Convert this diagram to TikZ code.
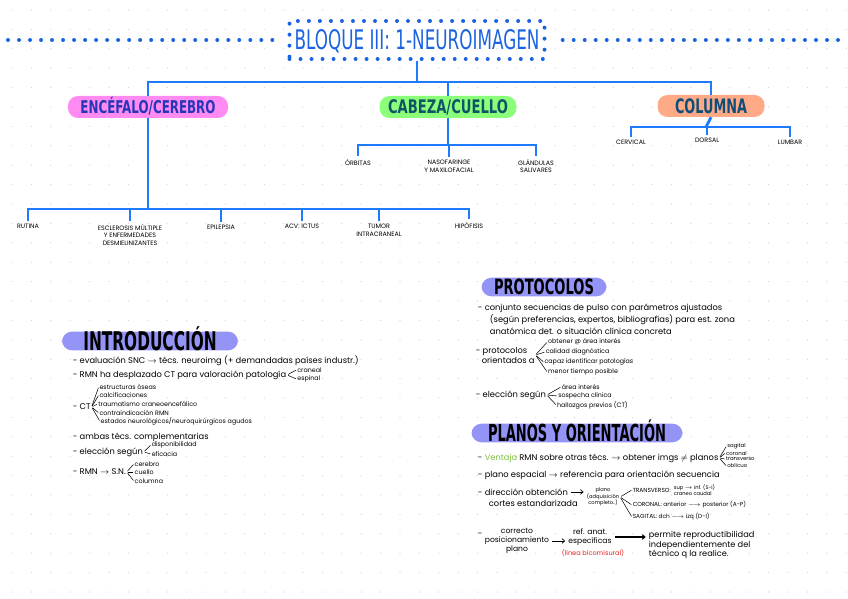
\documentclass[tikz,border=0pt]{standalone}
\usepackage{fontspec}
\setmainfont{Poppins}
\newfontfamily\headfont{DejaVu Sans}
\usepackage{tikz}
\usetikzlibrary{arrows.meta}

\definecolor{treeblue}{HTML}{1E7BFF}
\definecolor{titleblue}{HTML}{1B63E0}
\definecolor{encpink}{HTML}{FF8AF2}
\definecolor{encink}{HTML}{2636B8}
\definecolor{cabgreen}{HTML}{8CFF7A}
\definecolor{cabink}{HTML}{0F5566}
\definecolor{colorange}{HTML}{FFAA86}
\definecolor{colink}{HTML}{0E4E78}
\definecolor{secblue}{HTML}{9494F6}
\definecolor{vgreen}{HTML}{7CC242}
\definecolor{bicored}{HTML}{E4221E}

\newcommand{\hd}[2]{\resizebox{#1}{\height}{#2}}
\newcommand{\fs}[2]{\fontsize{#1}{#2}\selectfont}

\begin{document}
\begin{tikzpicture}[
  x=0.03cm, y=-0.03cm,
  branch/.style={treeblue, line width=2.4pt},
  dotrow/.style={titleblue, line width=3.4pt, line cap=round, dash pattern=on 0pt off 9.4pt},
  pill/.style={rounded corners=0.3cm, inner sep=0pt, text depth=0pt},
  secpill/.style={pill, fill=secblue, text=black, minimum height=0.56cm},
  leaf/.style={anchor=north, align=center, inner sep=2.5pt, font=\fs{5.4}{6.6}},
  txt/.style={anchor=west, inner sep=0.6pt, font=\fs{7.1}{8.6}},
  subtxt/.style={anchor=west, inner sep=0.6pt, font=\fs{5.4}{6}},
  tinytxt/.style={subtxt, font=\fs{4.6}{5}},
  fan/.style={black, line width=0.45pt, shorten <=1pt, shorten >=0.5pt},
  handarrow/.style={black, line width=0.6pt, -{Straight Barb[length=2.2pt,width=4pt]}, shorten <=2pt, shorten >=2pt},
]
\useasboundingbox (0,0) rectangle (848,599);

% dotted paper
\foreach \gx in {0,...,43} {
  \foreach \gy in {0,...,30} {
    \fill[black!18] ({12+19.4*\gx},{10+19.4*\gy}) circle (0.55pt);
  }
}

%%% Title and first level %%%
\node[dotrow, draw, minimum width=7.65cm, minimum height=1.14cm, inner sep=0pt,
  text height=17pt, text depth=0pt, text=titleblue, font=\headfont\fs{23}{23}]
  (tit) at (417,40) {\hd{7.35cm}{BLOQUE III: 1-NEUROIMAGEN}};
\coordinate (dl) at (8,40);
\coordinate (dr) at (838,40);
\draw[dotrow, shorten >=9pt] (dl) -- (tit.west);
\draw[dotrow, shorten >=9pt] (dr) -- (tit.east);

\node[pill, fill=encpink, text=encink, minimum width=4.8cm, minimum height=0.66cm,
  text height=11pt, font=\headfont\bfseries\fs{15}{15}] (enc) at (148,107) {\hd{4.05cm}{ENCÉFALO/CEREBRO}};
\node[pill, fill=cabgreen, text=cabink, minimum width=4.11cm, minimum height=0.66cm,
  text height=11.7pt, font=\headfont\bfseries\fs{16}{16}] (cab) at (448,107) {\hd{3.6cm}{CABEZA/CUELLO}};
\node[pill, fill=colorange, text=colink, minimum width=3.21cm, minimum height=0.66cm,
  text height=12.4pt, font=\headfont\bfseries\fs{17}{17}] (col) at (711,106) {\hd{2.16cm}{COLUMNA}};

\coordinate (tbus) at (417,82);
\draw[branch] (tit.south) -- (tbus);
\draw[branch] (enc.north) -- (enc.north |- tbus) -- (col.north |- tbus) -- (col.north);
\draw[branch] (cab.north) -- (cab.north |- tbus);

%%% Encefalo / cerebro branch %%%
\coordinate (ebus) at (148,209);
\node[leaf] (rut) at (28,221) {RUTINA};
\node[leaf] (esc) at (130,221) {ESCLEROSIS MÚLTIPLE\\Y ENFERMEDADES\\DESMIELINIZANTES};
\node[leaf] (epi) at (221,222) {EPILEPSIA};
\node[leaf] (acv) at (302,221) {ACV: ICTUS};
\node[leaf] (tum) at (379,221) {TUMOR\\INTRACRANEAL};
\node[leaf] (hip) at (469,219) {HIPÓFISIS};
\draw[branch] (enc.south) -- (ebus);
\draw[branch] (rut.north) -- (rut.north |- ebus) -- (hip.north |- ebus) -- (hip.north);
\foreach \n in {esc,epi,acv,tum} {
  \draw[branch] (\n.north) -- (\n.north |- ebus);
}

%%% Cabeza / cuello branch %%%
\coordinate (cbus) at (448,145);
\node[leaf] (orb) at (358,156) {ÓRBITAS};
\node[leaf] (nas) at (449,157) {NASOFARINGE\\Y MAXILOFACIAL};
\node[leaf] (gla) at (536,156) {GLÁNDULAS\\SALIVARES};
\draw[branch] (cab.south) -- (cbus);
\draw[branch] (orb.north) -- (orb.north |- cbus) -- (gla.north |- cbus) -- (gla.north);
\draw[branch] (nas.north) -- (nas.north |- cbus);

%%% Columna branch %%%
\coordinate (kbus) at (706,127);
\node[leaf] (cer) at (631,137) {CERVICAL};
\node[leaf] (dor) at (707,135) {DORSAL};
\node[leaf] (lum) at (790,137) {LUMBAR};
\draw[branch] (col.south) -- (kbus);
\draw[branch] (cer.north) -- (cer.north |- kbus) -- (lum.north |- kbus) -- (lum.north);
\draw[branch] (dor.north) -- (dor.north |- kbus);

%%% Introduccion %%%
\node[secpill, minimum width=5.28cm, text height=16pt, font=\headfont\bfseries\fs{22}{22}]
  (intro) at (150,341) {\hd{4.0cm}{INTRODUCCIÓN}};
\node[txt] (i1) at (72,361) {- evaluación SNC $\rightarrow$ técs. neuroimg (+ demandadas países industr.)};
\node[txt] (i2) at (72,375) {- RMN ha desplazado CT para valoración patología};
\node[subtxt] (cran) at ([xshift=8pt,yshift=4.3pt]i2.east) {craneal};
\node[subtxt] (esp) at ([xshift=8pt,yshift=-3.4pt]i2.east) {espinal};
\draw[fan] (i2.east) -- (cran.west);
\draw[fan] (i2.east) -- (esp.west);
\node[txt] (ct) at (72,407) {- CT};
\node[subtxt] (ct1) at ([xshift=6pt,yshift=17pt]ct.east) {estructuras óseas};
\node[subtxt] (ct2) at ([xshift=6pt,yshift=10pt]ct.east) {calcificaciones};
\node[subtxt] (ct3) at ([xshift=5pt,yshift=2.5pt]ct.east) {traumatismo craneoencefálico};
\node[subtxt] (ct4) at ([xshift=6pt,yshift=-5pt]ct.east) {contraindicación RMN};
\node[subtxt] (ct5) at ([xshift=7pt,yshift=-12pt]ct.east) {estados neurológicos/neuroquirúrgicos agudos};
\foreach \n in {ct1,ct2,ct3,ct4,ct5} {
  \draw[fan] (ct.east) -- (\n.west);
}
\node[txt] (i4) at (72,437) {- ambas técs. complementarias};
\node[txt] (i5) at (72,452) {- elección según};
\node[subtxt] (dis) at ([xshift=6pt,yshift=6pt]i5.east) {disponibilidad};
\node[subtxt] (efi) at ([xshift=6pt,yshift=-1.7pt]i5.east) {eficacia};
\draw[fan] (i5.east) -- (dis.west);
\draw[fan] (i5.east) -- (efi.west);
\node[txt] (i6) at (72,472) {- RMN $\rightarrow$ S.N.};
\node[subtxt] (cer2) at ([xshift=6pt,yshift=6.8pt]i6.east) {cerebro};
\node[subtxt] (cue2) at ([xshift=6pt]i6.east) {cuello};
\node[subtxt] (col2) at ([xshift=6pt,yshift=-7.6pt]i6.east) {columna};
\foreach \n in {cer2,cue2,col2} {
  \draw[fan] (i6.east) -- (\n.west);
}

%%% Protocolos %%%
\node[secpill, minimum width=3.75cm, text height=13pt, font=\headfont\bfseries\fs{18}{18}]
  (proto) at (544,287) {\hd{3.0cm}{PROTOCOLOS}};
\node[txt] (p1a) at (477,308) {- conjunto secuencias de pulso con parámetros ajustados};
\node[txt] (p1b) at (489,320) {(según preferencias, expertos, bibliografías) para est. zona};
\node[txt] (p1c) at (489,331) {anatómica det. o situación clínica concreta};
\node[txt, align=left] (po) at (475,355) {- protocolos\\\hspace{5pt}orientados a};
\node[subtxt] (po1) at ([xshift=10pt,yshift=11pt]po.east) {obtener @ área interés};
\node[subtxt] (po2) at ([xshift=8pt,yshift=2.5pt]po.east) {calidad diagnóstica};
\node[subtxt] (po3) at ([xshift=7pt,yshift=-6pt]po.east) {capaz identificar patologías};
\node[subtxt] (po4) at ([xshift=10pt,yshift=-14.5pt]po.east) {menor tiempo posible};
\foreach \n in {po1,po2,po3,po4} {
  \draw[fan] (po.east) -- (\n.west);
}
\node[txt] (pe) at (475,395) {- elección según};
\node[subtxt] (pe1) at ([xshift=12pt,yshift=6.8pt]pe.east) {área interés};
\node[subtxt] (pe2) at ([xshift=9pt,yshift=-0.8pt]pe.east) {sospecha clínica};
\node[subtxt] (pe3) at ([xshift=8pt,yshift=-8.5pt]pe.east) {hallazgos previos (CT)};
\foreach \n in {pe1,pe2,pe3} {
  \draw[fan] (pe.east) -- (\n.west);
}

%%% Planos y orientacion %%%
\node[secpill, minimum width=6.33cm, text height=14.6pt, font=\headfont\bfseries\fs{20}{20}]
  (planos) at (577,433) {\hd{5.34cm}{PLANOS Y ORIENTACIÓN}};
\node[txt] (q1) at (477,458) {- \textcolor{vgreen}{Ventaja} RMN sobre otras técs. $\rightarrow$ obtener imgs $\neq$ planos};
\node[tinytxt] (q11) at ([xshift=6pt,yshift=10pt]q1.east) {sagital};
\node[tinytxt] (q12) at ([xshift=5pt,yshift=4.2pt]q1.east) {coronal};
\node[tinytxt] (q13) at ([xshift=5pt,yshift=-0.9pt]q1.east) {transverso};
\node[tinytxt] (q14) at ([xshift=6pt,yshift=-6.8pt]q1.east) {oblicuo};
\foreach \n in {q11,q12,q13,q14} {
  \draw[fan] (q1.east) -- (\n.west);
}
\node[txt] (q2) at (477,475) {- plano espacial $\rightarrow$ referencia para orientación secuencia};
\node[txt] (q3a) at (477,492) {- dirección obtención};
\node[txt] (q3b) at (488,503) {cortes estandarizada};
\node[subtxt, align=center, anchor=center, font=\fs{4.4}{5.6}] (pl) at (603,497) {plano\\(adquisición\\completo..)};
\draw[handarrow] (q3a.east) -- (q3a.east -| pl.west);
\node[subtxt, font=\fs{5}{6}] (tr) at ([xshift=10pt,yshift=6pt]pl.east) {TRANSVERSO:};
\node[subtxt, align=left, font=\fs{4.4}{5.4}] (trx) at ([xshift=1pt]tr.east) {sup $\rightarrow$ inf. (S-I)\\craneo caudal};
\node[subtxt, font=\fs{5}{6}] (co) at ([xshift=10pt,yshift=-6.8pt]pl.east) {CORONAL: anterior $\longrightarrow$ posterior (A-P)};
\node[subtxt, font=\fs{5}{6}] (sa) at ([xshift=10pt,yshift=-17pt]pl.east) {SAGITAL: dch $\longrightarrow$ izq (D-I)};
\foreach \n in {tr,co,sa} {
  \draw[fan] (pl.east) -- (\n.west);
}
\node[txt] (q4) at (477,535) {-};
\node[txt, anchor=center, align=center, font=\fs{6.5}{7.6}] (cp) at (517,541) {correcto\\posicionamiento\\plano};
\node[txt, anchor=center, align=center, font=\fs{6.5}{7.6}] (ra) at (590,537) {ref. anat.\\específicas};
\node[txt, anchor=center, text=bicored, font=\fs{5.6}{6}] (lb) at (593,553) {(línea bicomisural)};
\node[txt, align=left, font=\fs{7}{8}] (pm) at (648,545) {permite reproductibilidad\\independientemente del\\técnico q la realice.};
\draw[handarrow] (cp.east) -- (cp.east -| ra.west);
\draw[handarrow, line width=0.9pt] (ra.east) -- (ra.east -| pm.west);

\end{tikzpicture}
\end{document}
